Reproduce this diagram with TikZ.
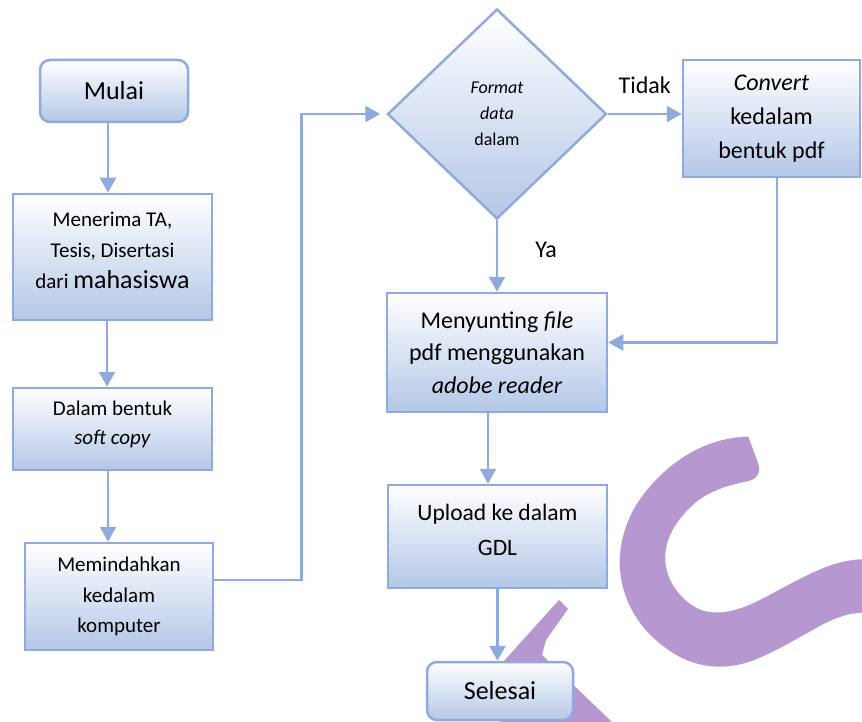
\documentclass[tikz,border=0pt]{standalone}
\usepackage{fontspec}
\setmainfont{Carlito}
\usetikzlibrary{shapes.geometric,arrows.meta}
\definecolor{lineblue}{RGB}{143,170,220}
\definecolor{fillblue}{RGB}{180,199,231}
\definecolor{wmpurple}{RGB}{183,151,207}
\newcommand{\fs}[2]{\fontsize{#1}{#2}\selectfont}

\begin{document}
\begin{tikzpicture}[x=1pt,y=-1pt,
    box/.style={draw=lineblue, line width=2.5pt, top color=white, bottom color=fillblue, align=center, inner sep=0pt},
    term/.style={box, rounded corners=10pt},
    arr/.style={draw=lineblue, line width=2.5pt, -{Triangle[length=15pt,width=16pt]}},
    lbl/.style={inner sep=0pt, font=\fs{24}{29}}]

        \useasboundingbox (0,0) rectangle (862,722);

        % Watermark behind the chart
        \node[text=wmpurple, rotate=48, inner sep=0pt, font=\fs{595}{595}] (wmS) at (792,621) {S};
        \fill[wmpurple] (559,600) -- (568,609) -- (546,640) -- (542,655) -- (612,722) -- (500,722) -- (503,662) -- cycle;

        % Left column
        \node[term, minimum width=148pt, minimum height=62pt, font=\fs{26}{31}] (mulai) at (114,91) {Mulai};
        \node[box, minimum width=199pt, minimum height=126pt, text depth=13pt, font=\fs{21}{31}] (terima) at (112.5,257) {Menerima TA,\\Tesis, Disertasi\\dari {\fs{26}{31}mahasiswa}};
        \node[box, minimum width=199pt, minimum height=82pt, text depth=13pt, font=\fs{21}{29}] (soft) at (112.5,429) {Dalam bentuk\\\textit{soft copy}};
        \node[box, minimum width=188pt, minimum height=107pt, font=\fs{21}{30.5}] (pindah) at (119,596.5) {Memindahkan\\kedalam\\komputer};

        % Decision and right part
        \node[diamond, draw=lineblue, line width=2.5pt, top color=white, bottom color=fillblue, aspect=1.04, minimum width=219pt, minimum height=210pt, inner sep=0pt, align=center, font=\fs{18}{26}] (format) at (497,114) {\textit{Format}\\\textit{data}\\dalam};
        \node[box, minimum width=177pt, minimum height=117pt, font=\fs{24}{34}] (convert) at (771.5,118.5) {\textit{Convert}\\kedalam\\bentuk pdf};
        \node[box, minimum width=220pt, minimum height=119pt, font=\fs{24}{32.5}] (sunting) at (497,352.5) {Menyunting \textit{file}\\pdf menggunakan\\\textit{adobe reader}};
        \node[box, minimum width=219pt, minimum height=103pt, text depth=14pt, font=\fs{23.5}{35}] (upload) at (497.5,536.5) {Upload ke dalam\\GDL};
        \node[term, minimum width=146pt, minimum height=58pt, font=\fs{26}{31}] (selesai) at (500,691) {Selesai};

        % Arrows
        \draw[arr] ([xshift=-6pt]mulai.south) -- ([xshift=-6pt]mulai.south |- terima.north);
        \draw[arr] ([xshift=-5.5pt]terima.south) -- ([xshift=-5.5pt]terima.south |- soft.north);
        \draw[arr] ([xshift=-4.5pt]soft.south) -- ([xshift=-4.5pt]soft.south |- pindah.north);
        \draw[arr] ([yshift=16.5pt]pindah.east) -| ([xshift=-85pt]format.west) -- ([xshift=-6pt]format.west);
        \draw[arr] (format.east) -- (format.east -| convert.west) node[midway, above, yshift=19pt, lbl] (tidak) {Tidak};
        \draw[arr] (format.south) -- (format.south |- sunting.north) node[pos=0.42, right, xshift=37pt, lbl] (ya) {Ya};
        \draw[arr] ([xshift=5.5pt]convert.south) |- ([yshift=10pt]sunting.east);
        \draw[arr] ([xshift=-9pt]sunting.south) -- ([xshift=-9pt]sunting.south |- upload.north);
        \draw[arr] (upload.south) -- (upload.south |- selesai.north);
\end{tikzpicture}
\end{document}
